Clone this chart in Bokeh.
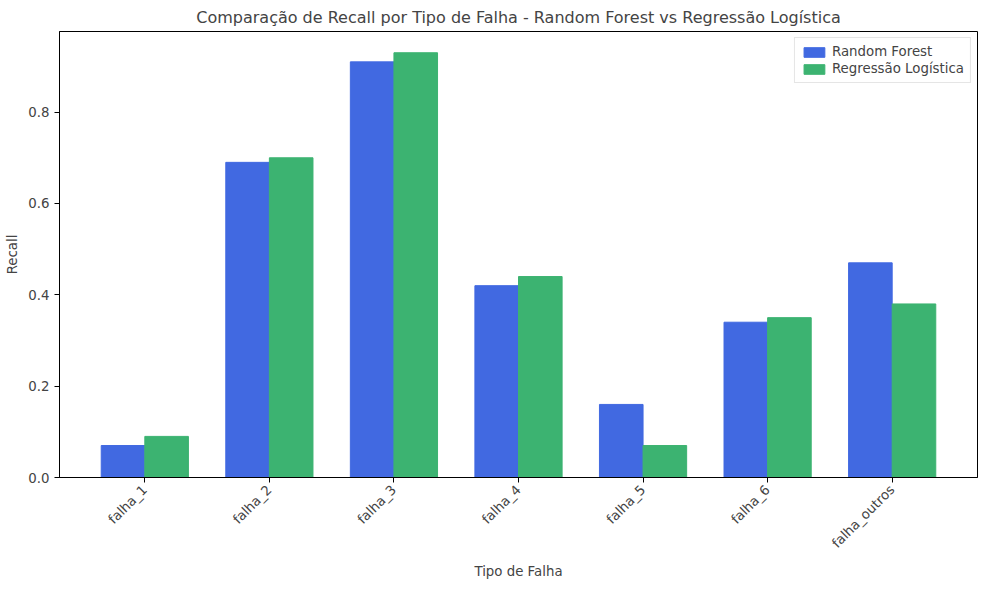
from bokeh.plotting import figure
from bokeh.models import ColumnDataSource, Range1d, FixedTicker, Legend, LegendItem
from bokeh.embed import file_html
from bokeh.resources import INLINE
import math

categories = ['falha_1', 'falha_2', 'falha_3', 'falha_4', 'falha_5', 'falha_6', 'falha_outros']
recall_rf = [0.07, 0.69, 0.91, 0.42, 0.16, 0.34, 0.47]
recall_lr = [0.09, 0.70, 0.93, 0.44, 0.07, 0.35, 0.38]
bar_w = 0.35

idx = list(range(len(categories)))
src = ColumnDataSource(dict(
    x_rf=[i - bar_w / 2 for i in idx],
    x_lr=[i + bar_w / 2 for i in idx],
    rf=recall_rf, lr=recall_lr,
))

p = figure(width=984, height=584, output_backend="svg", toolbar_location=None,
           x_range=Range1d(-0.685, 6.685), y_range=Range1d(0, 0.9765),
           title="Comparação de Recall por Tipo de Falha - Random Forest vs Regressão Logística",
           x_axis_label="Tipo de Falha", y_axis_label="Recall",
           min_border_left=59, min_border_right=7, min_border_top=28, min_border_bottom=107)

r1 = p.vbar(x='x_rf', top='rf', width=bar_w, source=src, color="#4169E1")
r2 = p.vbar(x='x_lr', top='lr', width=bar_w, source=src, color="#3CB371")

p.title.align = "center"
p.title.text_font = "DejaVu Sans"
p.title.text_font_size = "12pt"
p.title.text_font_style = "normal"
p.grid.visible = False
p.outline_line_color = "black"

p.xaxis.ticker = FixedTicker(ticks=idx)
p.xaxis.major_label_overrides = {i: c for i, c in enumerate(categories)}
p.xaxis.major_label_orientation = math.pi / 4
p.yaxis.ticker = FixedTicker(ticks=[0, 0.2, 0.4, 0.6, 0.8])
p.yaxis.formatter.use_scientific = False
for ax in (p.xaxis, p.yaxis):
    ax.axis_label_text_font = "DejaVu Sans"
    ax.axis_label_text_font_style = "normal"
    ax.axis_label_text_font_size = "10pt"
    ax.major_label_text_font = "DejaVu Sans"
    ax.major_label_text_font_size = "10pt"
    ax.minor_tick_line_color = None
    ax.major_tick_out = 5
    ax.major_tick_in = 0
p.yaxis.formatter = __import__("bokeh.models", fromlist=["CustomJSTickFormatter"]).CustomJSTickFormatter(
    code="return tick.toFixed(1);")

legend = Legend(items=[LegendItem(label="Random Forest", renderers=[r1]),
                       LegendItem(label="Regressão Logística", renderers=[r2])],
                location="top_right", label_text_font="DejaVu Sans",
                label_text_font_size="10pt", border_line_color="#cccccc",
                glyph_height=12, glyph_width=26, spacing=2, padding=6, margin=6)
p.add_layout(legend)

open("out.html", "w").write(file_html(p, INLINE))
